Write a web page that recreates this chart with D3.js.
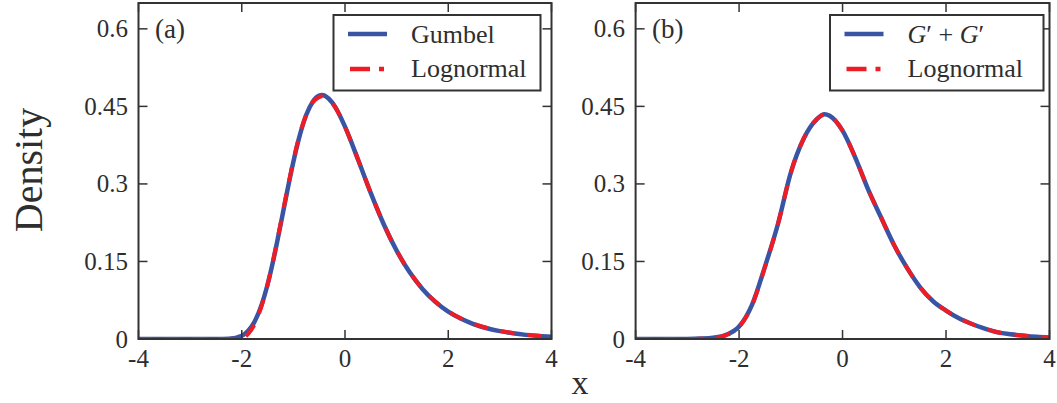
<!DOCTYPE html>
<html>
<head>
<meta charset="utf-8">
<script src="https://cdn.jsdelivr.net/npm/d3@7"></script>
<style>
  html, body { margin: 0; padding: 0; background: #fff; }
  svg { display: block; }
  text { font-family: "Liberation Serif", "DejaVu Serif", serif; fill: #2e2e2e; }
</style>
</head>
<body>
<svg id="chart" width="1057" height="403"></svg>
<script>
// ---------- data ----------
const xTicks = [-4, -2, 0, 2, 4];
const xTickLabels = ["-4", "-2", "0", "2", "4"];
const yTicks = [0, 0.15, 0.3, 0.45, 0.6];
const yTickLabels = ["0", "0.15", "0.3", "0.45", "0.6"];

// panel (a)
const xA = [-4, -3.5, -3, -2.5, -2.25, -2, -1.875, -1.75, -1.625, -1.5, -1.375, -1.25, -1.125, -1,
            -0.875, -0.75, -0.625, -0.5, -0.45, -0.375, -0.25, -0.125, 0, 0.25, 0.5, 0.75, 1,
            1.25, 1.5, 1.75, 2, 2.25, 2.5, 2.75, 3, 3.25, 3.5, 3.75, 4];
const gumbelA = [0, 0, 0, 0.00002, 0.0006, 0.0063, 0.0159, 0.034, 0.0635, 0.1055, 0.1588, 0.2198, 0.283, 0.343,
                 0.3943, 0.4337, 0.4591, 0.4708, 0.4718, 0.4697, 0.4577, 0.4373, 0.4107, 0.3477, 0.2821, 0.222, 0.1709,
                 0.1294, 0.0969, 0.0719, 0.053, 0.039, 0.0285, 0.0208, 0.0152, 0.0111, 0.008, 0.0058, 0.0042];
const lognormA = [0, 0, 0, 0, 0.0001, 0.0015, 0.010, 0.029, 0.061, 0.105, 0.160, 0.222, 0.285, 0.345,
                  0.396, 0.434, 0.458, 0.468, 0.4695, 0.468, 0.457, 0.437, 0.4105, 0.3478, 0.2823, 0.2222, 0.1712,
                  0.1298, 0.0973, 0.0724, 0.0535, 0.0395, 0.029, 0.0213, 0.0156, 0.0116, 0.0085, 0.0063, 0.0047];

// panel (b)
const xB = [-4, -3.5, -3, -2.75, -2.5, -2.25, -2, -1.75, -1.5, -1.25, -1, -0.75, -0.5, -0.35, -0.25,
            0, 0.25, 0.5, 0.75, 1, 1.25, 1.5, 1.75, 2, 2.25, 2.5, 2.75, 3, 3.25, 3.5, 3.75, 4];
const sumGB = [0, 0, 0.0002, 0.0008, 0.0025, 0.008, 0.024, 0.066, 0.140, 0.222, 0.322, 0.388, 0.425, 0.435, 0.432,
               0.403, 0.350, 0.288, 0.234, 0.181, 0.137, 0.100, 0.073, 0.055, 0.040, 0.029, 0.020, 0.0128, 0.009, 0.0064, 0.0042, 0.0026];
const lognormB = [0, 0, 0.0001, 0.0006, 0.0022, 0.0075, 0.023, 0.065, 0.139, 0.222, 0.322, 0.388, 0.425, 0.4345, 0.432,
                  0.403, 0.350, 0.288, 0.234, 0.181, 0.137, 0.100, 0.073, 0.055, 0.040, 0.029, 0.020, 0.013, 0.0092, 0.0066, 0.0044, 0.0028];

const legendA = ["Gumbel", "Lognormal"];
const legendB = ["G′ + G′", "Lognormal"];
const panelLabels = ["(a)", "(b)"];

// ---------- drawing ----------
const svg = d3.select("#chart");
const BLUE = "#3a54a4", RED = "#ee1d25", FRAME = "#333";

const panels = [
  { left: 138.5, right: 551.5, xs: xA, s1: gumbelA, s2: lognormA, label: panelLabels[0], legend: legendA, legX: 333.5, legW: 207 },
  { left: 635.6, right: 1049.5, xs: xB, s1: sumGB, s2: lognormB, label: panelLabels[1], legend: legendB, legX: 830, legW: 213.5 }
];
const plotTop = 3, plotBottom = 339;

panels.forEach((p, i) => {
  const x = d3.scaleLinear().domain([-4, 4]).range([p.left, p.right]);
  const y = d3.scaleLinear().domain([0, 0.65]).range([plotBottom, plotTop]);
  const g = svg.append("g");

  const clipId = "clip" + i;
  svg.append("clipPath").attr("id", clipId).append("rect")
    .attr("x", p.left).attr("y", plotTop).attr("width", p.right - p.left).attr("height", plotBottom - plotTop);

  const line = d3.line().x(d => x(d[0])).y(d => y(d[1])).curve(d3.curveMonotoneX);
  const d1 = p.xs.map((v, k) => [v, p.s1[k]]);
  const d2 = p.xs.map((v, k) => [v, p.s2[k]]);

  const curves = g.append("g").attr("clip-path", `url(#${clipId})`);
  curves.append("path").attr("d", line(d1)).attr("fill", "none")
    .attr("stroke", BLUE).attr("stroke-width", 4.5);
  curves.append("path").attr("d", line(d2)).attr("fill", "none")
    .attr("stroke", RED).attr("stroke-width", 4).attr("stroke-dasharray", "14,13");

  // ticks (inward, on all four sides)
  const tl = 9;
  xTicks.forEach(t => {
    g.append("line").attr("x1", x(t)).attr("x2", x(t)).attr("y1", plotBottom).attr("y2", plotBottom - tl)
      .attr("stroke", FRAME).attr("stroke-width", 1.5);
    g.append("line").attr("x1", x(t)).attr("x2", x(t)).attr("y1", plotTop).attr("y2", plotTop + tl)
      .attr("stroke", FRAME).attr("stroke-width", 1.5);
  });
  yTicks.forEach(t => {
    g.append("line").attr("x1", p.left).attr("x2", p.left + tl).attr("y1", y(t)).attr("y2", y(t))
      .attr("stroke", FRAME).attr("stroke-width", 1.5);
    g.append("line").attr("x1", p.right).attr("x2", p.right - tl).attr("y1", y(t)).attr("y2", y(t))
      .attr("stroke", FRAME).attr("stroke-width", 1.5);
  });

  // frame
  g.append("rect").attr("x", p.left).attr("y", plotTop).attr("width", p.right - p.left).attr("height", plotBottom - plotTop)
    .attr("fill", "none").attr("stroke", FRAME).attr("stroke-width", 2);

  // tick labels
  xTicks.forEach((t, k) => {
    g.append("text").attr("x", x(t)).attr("y", 367).attr("text-anchor", "middle")
      .attr("font-size", 25).text(xTickLabels[k]);
  });
  yTicks.forEach((t, k) => {
    g.append("text").attr("x", p.left - 10.5).attr("y", y(t) + 8.5).attr("text-anchor", "end")
      .attr("font-size", 25).text(yTickLabels[k]);
  });

  // panel label
  g.append("text").attr("x", p.left + 16.5).attr("y", 38).attr("font-size", 27).text(p.label);

  // legend
  const lg = g.append("g");
  lg.append("rect").attr("x", p.legX).attr("y", 15).attr("width", p.legW).attr("height", 75.5)
    .attr("fill", "#fff").attr("stroke", FRAME).attr("stroke-width", 2);
  const lx = p.legX + 14.5;
  lg.append("line").attr("x1", lx).attr("x2", lx + 39).attr("y1", 34).attr("y2", 34)
    .attr("stroke", BLUE).attr("stroke-width", 4.5);
  lg.append("line").attr("x1", lx + 2).attr("x2", lx + 36).attr("y1", 69).attr("y2", 69)
    .attr("stroke", RED).attr("stroke-width", 4.5).attr("stroke-dasharray", "20,9,5,40");
  const tx = p.legX + 77.5;
  const t1 = lg.append("text").attr("x", tx).attr("y", 43).attr("font-size", 26);
  if (i === 0) {
    t1.text(p.legend[0]);
  } else {
    t1.append("tspan").attr("font-style", "italic").text("G");
    t1.append("tspan").text("′ + ");
    t1.append("tspan").attr("font-style", "italic").text("G");
    t1.append("tspan").text("′");
  }
  lg.append("text").attr("x", tx).attr("y", 77).attr("font-size", 26).text(p.legend[1]);
});

// axis titles
svg.append("text").attr("x", 580).attr("y", 394).attr("text-anchor", "middle")
  .attr("font-size", 34).text("x");
svg.append("text").attr("transform", "translate(42,170) rotate(-90)").attr("text-anchor", "middle")
  .attr("font-size", 40).text("Density");
</script>
</body>
</html>
